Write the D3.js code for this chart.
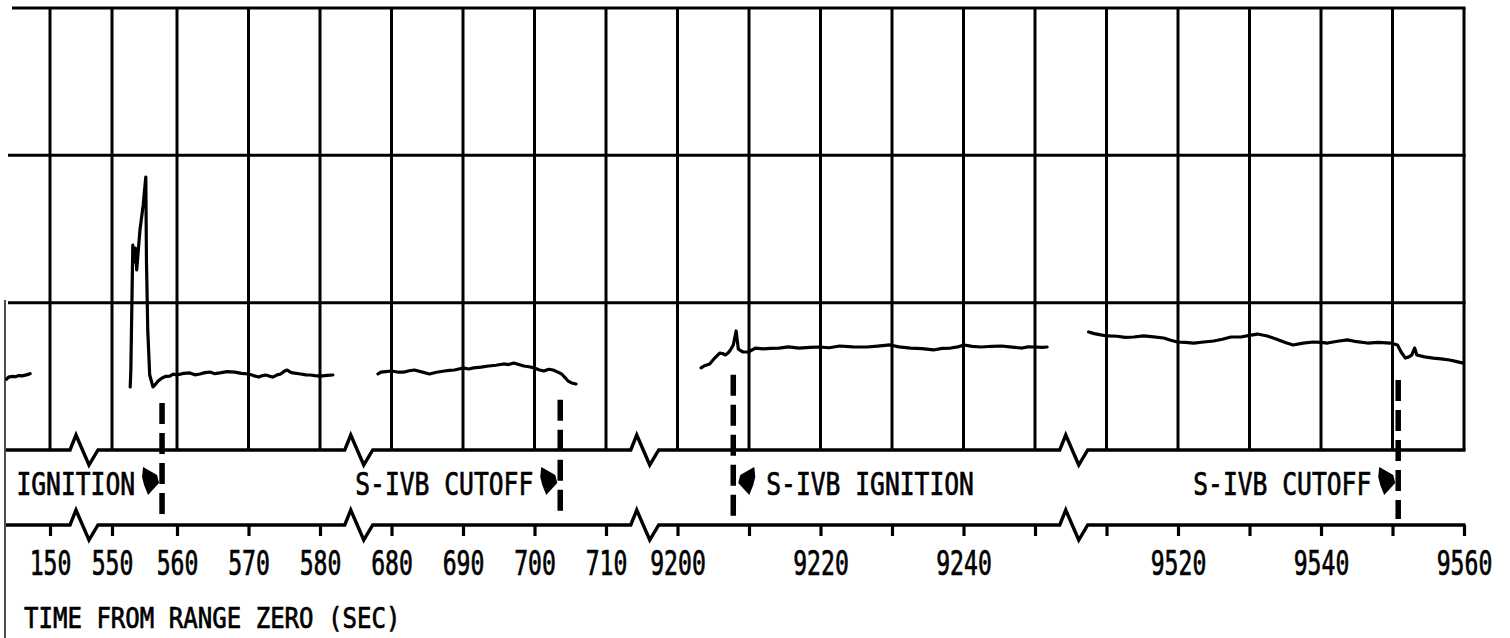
<!DOCTYPE html>
<html><head><meta charset="utf-8">
<script src="https://cdn.jsdelivr.net/npm/d3@7"></script>
<style>html,body{margin:0;padding:0;background:#fff;} svg{display:block;}</style>
</head><body>
<svg id="chart" width="1510" height="638"></svg>
<script>
// ---------------- DATA ----------------
// time (sec from range zero) of each vertical grid line / axis tick
const gridTimes = [150, 550, 560, 570, 580, 680, 690, 700, 710,
  9200, 9210, 9220, 9230, 9240, 9250, 9510, 9520, 9530, 9540, 9550, 9560];
// labelled ticks
const tickLabels = ["150","550","560","570","580","680","690","700","710",
  "9200","9220","9240","9520","9540","9560"];
// continuous pieces of the broken time axis
const segmentDomains = [[150, 150], [550, 580], [680, 710], [9200, 9250], [9510, 9560]];
// horizontal grid lines (chart divisions)
const gridValues = [0, 1, 2, 3];

// recorded trace, in chart divisions, by time
const trace1 = [[143.0,0.48],[143.3,0.495],[144.0,0.50],[144.4,0.497],[145.0,0.505],[145.5,0.503],[146.2,0.51],[146.8,0.518]];
const trace2 = [[552.8,0.428],[552.9,0.543],[553.2,1.391],[553.5,1.276],[553.6,1.371],[553.8,1.222],[554.3,1.493],
  [554.8,1.663],[555.2,1.853],[555.3,1.29],[555.5,0.815],[555.8,0.509],[556.3,0.428],[556.6,0.441],[557.1,0.468],
  [557.7,0.489],[558.3,0.50],[558.9,0.502],[559.4,0.515],[560.0,0.509],[560.9,0.52],[561.8,0.523],[562.5,0.51],
  [563.2,0.516],[563.9,0.525],[564.6,0.529],[565.3,0.518],[566.0,0.523],[567.0,0.532],[568.1,0.529],[569.0,0.52],
  [570.0,0.516],[570.7,0.505],[571.4,0.495],[572.0,0.505],[572.4,0.509],[573.0,0.50],[573.4,0.495],[574.0,0.51],
  [574.5,0.516],[575.0,0.535],[575.4,0.543],[575.8,0.53],[576.2,0.523],[577.3,0.516],[578.0,0.51],[578.6,0.509],
  [579.3,0.505],[580.0,0.502],[581.0,0.506],[581.8,0.509]];
const trace3 = [[678.1,0.516],[678.5,0.529],[679.2,0.532],[680.0,0.536],[681.0,0.528],[681.8,0.529],[682.5,0.538],
  [683.2,0.543],[684.2,0.53],[685.3,0.516],[686.3,0.528],[687.4,0.536],[688.1,0.54],[688.8,0.543],[690.0,0.557],
  [690.8,0.55],[691.5,0.557],[692.5,0.562],[693.6,0.570],[694.6,0.575],[695.7,0.584],[696.4,0.58],[697.1,0.590],
  [697.8,0.58],[698.5,0.570],[699.2,0.565],[700.0,0.557],[700.6,0.545],[701.3,0.536],[702.0,0.548],[702.6,0.543],
  [703.2,0.53],[703.8,0.516],[704.3,0.49],[704.7,0.468],[705.2,0.455],[705.8,0.448]];
const trace4 = [[9203.3,0.557],[9203.7,0.570],[9204.5,0.584],[9205.2,0.624],[9205.9,0.658],[9206.3,0.655],[9206.7,0.645],
  [9207.1,0.66],[9207.4,0.679],[9207.8,0.713],[9208.2,0.808],[9208.5,0.686],[9208.9,0.672],[9209.2,0.665],
  [9209.9,0.665],[9210.9,0.692],[9212.0,0.686],[9213.0,0.69],[9214.2,0.692],[9215.5,0.70],[9217.0,0.692],
  [9218.5,0.697],[9219.8,0.699],[9221.2,0.694],[9222.7,0.706],[9224.5,0.70],[9226.5,0.699],[9228.0,0.705],
  [9229.7,0.713],[9231.0,0.70],[9232.6,0.692],[9234.2,0.688],[9235.8,0.679],[9237.0,0.69],[9238.2,0.692],
  [9239.2,0.70],[9240.1,0.713],[9241.2,0.703],[9242.5,0.699],[9244.0,0.704],[9245.3,0.706],[9246.8,0.698],
  [9248.2,0.692],[9249.0,0.70],[9250.0,0.699],[9251.0,0.697],[9251.7,0.699]];
const trace5 = [[9507.5,0.801],[9508.3,0.79],[9509.2,0.781],[9510.1,0.774],[9511.5,0.772],[9512.6,0.765],[9513.8,0.767],
  [9515.2,0.774],[9516.6,0.768],[9518.0,0.760],[9519.0,0.745],[9519.9,0.733],[9521.0,0.73],[9522.2,0.726],
  [9523.6,0.733],[9525.0,0.740],[9526.2,0.752],[9527.4,0.767],[9528.8,0.767],[9530.0,0.778],[9531.1,0.787],
  [9532.5,0.774],[9533.8,0.752],[9535.0,0.73],[9536.1,0.713],[9537.5,0.725],[9538.9,0.733],[9540.0,0.73],
  [9540.9,0.726],[9542.3,0.738],[9543.7,0.747],[9545.0,0.735],[9546.5,0.726],[9548.0,0.73],[9549.7,0.726],
  [9550.7,0.713],[9551.2,0.665],[9551.8,0.624],[9552.3,0.632],[9552.7,0.645],[9553.1,0.692],[9553.4,0.645],
  [9554.5,0.632],[9555.7,0.624],[9556.8,0.618],[9558.0,0.611],[9559.0,0.60],[9559.9,0.590]];
const traces = [trace1, trace2, trace3, trace4, trace5];

// event markers
const eventTimes  = [557.7, 703.6, 9207.8, 9550.8];
const eventLabels = ["IGNITION", "S-IVB CUTOFF", "S-IVB IGNITION", "S-IVB CUTOFF"];
const eventSides  = ["left", "left", "right", "left"];   // side of the label / pointer

const axisTitle = "TIME FROM RANGE ZERO (SEC)";

// ---------------- LAYOUT ----------------
const svg = d3.select("#chart");
const xLeft = 6, xRight = 1464;
const y = d3.scaleLinear().domain([0, 3]).range([450, 8]);
const axisY = 525;
// grid index -> pixel
const xIndex = d3.scaleLinear().domain([0, 1, 2, gridTimes.length - 1]).range([50, 112, 177, xRight]);

const segments = segmentDomains.map(d => {
  const i0 = gridTimes.indexOf(d[0]);
  return {t0: d[0], t1: d[1], i0, i1: i0 + (d[1] - d[0]) / 10};
});
function segFor(t) {
  return d3.least(segments, s => t < s.t0 ? s.t0 - t : (t > s.t1 ? t - s.t1 : 0));
}
function xt(t) { const s = segFor(t); return xIndex(s.i0 + (t - s.t0) / 10); }

const breaksX = d3.range(segments.length - 1).map(k =>
  (xIndex(segments[k].i1) + xIndex(segments[k + 1].i0)) / 2 + 3);

const ink = "#000";
const FONT = "'DejaVu Sans Mono', 'Liberation Mono', monospace";
function textStyle(sel, size) {
  sel.style("font-family", FONT).style("font-size", size + "px")
    .attr("fill", ink).attr("stroke", ink).attr("stroke-width", 0.75);
}

// vertical grid lines
svg.append("g").selectAll("line").data(gridTimes).join("line")
  .attr("x1", d => xt(d)).attr("x2", d => xt(d))
  .attr("y1", y(3)).attr("y2", y(0))
  .attr("stroke", ink).attr("stroke-width", 3);

// horizontal grid lines (above the break band)
svg.append("g").selectAll("line").data(gridValues.filter(v => v > 0)).join("line")
  .attr("x1", v => v === 3 ? 12 : 8).attr("x2", xRight + 1.5)
  .attr("y1", v => y(v)).attr("y2", v => y(v))
  .attr("stroke", ink).attr("stroke-width", 3);

// broken lines with zig-zag break symbols
function brokenPoints(yy, amp) {
  const pts = [[xLeft, yy]];
  breaksX.forEach(bx => {
    pts.push([bx - 14, yy], [bx - 8, yy - amp], [bx + 5, yy + amp], [bx + 14, yy]);
  });
  pts.push([xRight + 1.5, yy]);
  return pts;
}
const lineGen = d3.line();
svg.append("path").attr("d", lineGen(brokenPoints(y(0), 15)))
  .attr("fill", "none").attr("stroke", ink).attr("stroke-width", 3.4).attr("stroke-linejoin", "miter");
svg.append("path").attr("d", lineGen(brokenPoints(axisY, 15)))
  .attr("fill", "none").attr("stroke", ink).attr("stroke-width", 3.4).attr("stroke-linejoin", "miter");

// left edge line
svg.append("line").attr("x1", 5).attr("x2", 5).attr("y1", 300).attr("y2", 638)
  .attr("stroke", ink).attr("stroke-width", 1.4);

// bottom axis (ticks + labels)
const axis = d3.axisBottom(xIndex)
  .tickValues(d3.range(gridTimes.length))
  .tickSize(11)
  .tickFormat(i => tickLabels.includes(String(gridTimes[i])) ? String(gridTimes[i]) : "");
const gAxis = svg.append("g").attr("transform", `translate(0,${axisY})`).call(axis);
gAxis.select(".domain").remove();
gAxis.selectAll(".tick line").attr("stroke", ink).attr("stroke-width", 3.2);
gAxis.selectAll(".tick text")
  .attr("y", 50).attr("dy", 0)
  .attr("transform", "scale(0.7,1)")
  .call(textStyle, 33);

// axis title
svg.append("text").attr("transform", "translate(24,628) scale(0.83,1)")
  .call(textStyle, 29)
  .text(axisTitle);

// data trace
const traceLine = d3.line().x(d => xt(d[0])).y(d => y(d[1]));
svg.append("g").selectAll("path").data(traces).join("path")
  .attr("d", traceLine)
  .attr("fill", "none").attr("stroke", ink).attr("stroke-width", 3.2)
  .attr("stroke-linejoin", "round").attr("stroke-linecap", "round");

// event markers
const allTrace = traces.flat();
const markY = 481;
eventTimes.forEach((t, i) => {
  const ex = xt(t);
  const near = allTrace.filter(d => Math.abs(d[0] - t) <= 1.0);
  const top = d3.max(near, d => y(d[1])) + 22;
  svg.append("line").attr("x1", ex).attr("x2", ex).attr("y1", top).attr("y2", 519)
    .attr("stroke", ink).attr("stroke-width", 5.5).attr("stroke-dasharray", "21,9");
  const left = eventSides[i] === "left";
  const p = left
    ? "M-18,-14 L-4,-6 L-2,2 L-13,14 L-17,4 L-19,-4 Z"
    : "M18,-14 L4,-6 L2,2 L13,14 L17,4 L19,-4 Z";
  svg.append("path").attr("d", p).attr("transform", `translate(${left ? ex - 1 : ex + 3},${markY})`)
    .attr("fill", ink);
  svg.append("text")
    .attr("transform", `translate(${left ? ex - 27 : ex + 33},${495}) scale(0.77,1)`)
    .attr("text-anchor", left ? "end" : "start")
    .call(textStyle, 32)
    .text(eventLabels[i]);
});
</script>
</body></html>
